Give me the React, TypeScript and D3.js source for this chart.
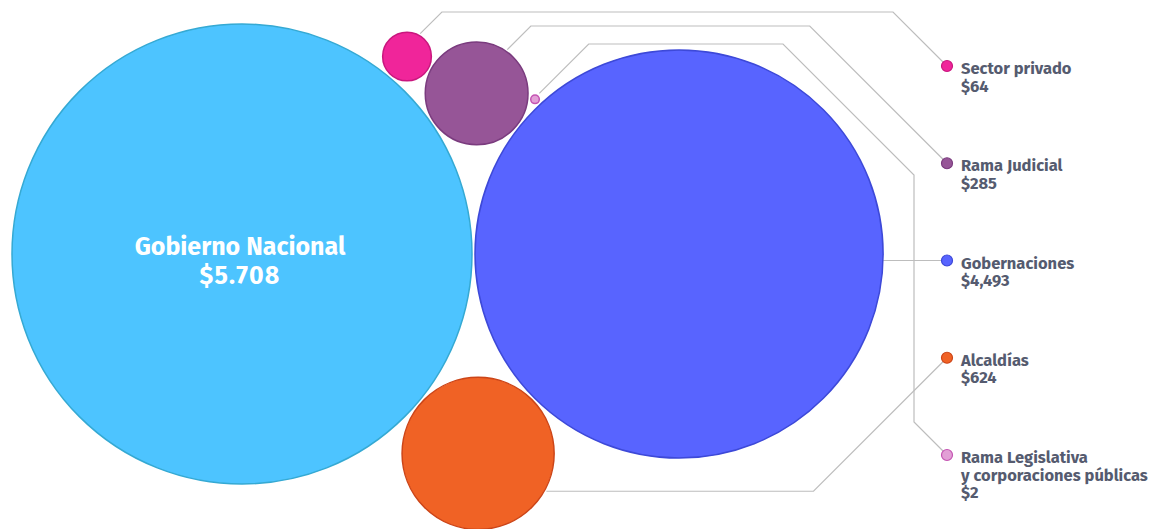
import React from "react";
import * as d3 from "d3";

const names = ["Gobierno Nacional", "Gobernaciones", "Alcaldías", "Rama Judicial", "Sector privado", "Rama Legislativa"];
const values = [5708, 4493, 624, 285, 64, 2];
const valueLabels = ["$5.708", "$4,493", "$624", "$285", "$64", "$2"];
const fills = ["#4DC4FF", "#5864FF", "#F06225", "#965597", "#F0259A", "#E29FD6"];
const strokes = ["#35A9D3", "#3D49D8", "#CC4518", "#7A3B7E", "#C9177E", "#C453B2"];
const legendOrder = ["Sector privado", "Rama Judicial", "Gobernaciones", "Alcaldías", "Rama Legislativa"];
const legendLines: string[][] = [["Sector privado"], ["Rama Judicial"], ["Gobernaciones"], ["Alcaldías"], ["Rama Legislativa", "y corporaciones públicas"]];

const W = 1154, H = 529;
const PAD = 3;
const FONT = "'Fira Sans', Lato, 'Open Sans', sans-serif";
const TEXT = "#555B6F";
const LINE = "#BDBDBD";

type C = { x: number; y: number; r: number };

function tangent(a: C, b: C, r: number, side: number): C {
  const da = a.r + r + PAD, db = b.r + r + PAD;
  const dx = b.x - a.x, dy = b.y - a.y;
  const d = Math.hypot(dx, dy);
  const along = (da * da - db * db + d * d) / (2 * d);
  const h = Math.sqrt(Math.max(0, da * da - along * along));
  const ux = dx / d, uy = dy / d;
  return { x: a.x + ux * along + side * -uy * h, y: a.y + uy * along + side * ux * h, r };
}

export default function App() {
  const rScale = d3.scaleSqrt().domain([0, d3.max(values) as number]).range([0, 230]);
  const rs = values.map((v) => rScale(v));
  const gn: C = { x: 12 + rs[0], y: 254, r: rs[0] };
  const gob: C = { x: gn.x + rs[0] + rs[1] + PAD, y: 254, r: rs[1] };
  const alc = tangent(gn, gob, rs[2], 1);
  const rj = tangent(gn, gob, rs[3], -1);
  const sp = tangent(gn, rj, rs[4], -1);
  const rl = tangent(rj, gob, rs[5], -1);
  const circles: C[] = [gn, gob, alc, rj, sp, rl];

  const ly = d3.scalePoint<string>().domain(legendOrder).range([66, 455]);
  const dotX = 947;
  const idx = (n: string) => names.indexOf(n);

  const at = (c: C, deg: number, gap = 2) => {
    const a = (deg * Math.PI) / 180;
    return [c.x + (c.r + gap) * Math.cos(a), c.y + (c.r + gap) * Math.sin(a)] as [number, number];
  };
  const line = d3.line();

  const topRoute = (c: C, deg: number, level: number, dy: number) => {
    const s = at(c, deg);
    const k1: [number, number] = [s[0] + (s[1] - level), level];
    const k2: [number, number] = [dotX - (dy - level), level];
    return [s, k1, k2, [dotX, dy] as [number, number]];
  };
  const spY = ly("Sector privado")!, rjY = ly("Rama Judicial")!, gobY = ly("Gobernaciones")!, alcY = ly("Alcaldías")!, rlY = ly("Rama Legislativa")!;
  const vx = 914;
  const rlStart = at(rl, -54, 3);
  const rlLevel = 44;
  const rlRoute: [number, number][] = [
    rlStart,
    [rlStart[0] + (rlStart[1] - rlLevel), rlLevel],
    [vx - (175 - rlLevel), rlLevel],
    [vx, 175],
    [vx, rlY - (dotX - vx)],
    [dotX, rlY],
  ];
  const alcStart = at(alc, 29);
  const alcRoute: [number, number][] = [alcStart, [dotX - (alcStart[1] - alcY), alcStart[1]], [dotX, alcY]];
  const gobRoute: [number, number][] = [[gob.x + gob.r, gobY], [dotX, gobY]];
  const routes = [
    topRoute(sp, -60, 12, spY),
    topRoute(rj, -55, 26, rjY),
    rlRoute,
    gobRoute,
    alcRoute,
  ];

  return (
    <div style={{ position: "absolute", left: 0, top: 0 }}>
      <svg width={W} height={H} style={{ display: "block" }}>
        <rect width={W} height={H} fill="#fff" />
        {routes.map((r, i) => (
          <path key={i} d={line(r) as string} fill="none" stroke={LINE} strokeWidth={1.2} />
        ))}
        {circles.map((c, i) => (
          <circle key={i} cx={c.x} cy={c.y} r={c.r} fill={fills[i]} stroke={strokes[i]} strokeWidth={1.5} />
        ))}
        <text x={gn.x - 2} y={255} textAnchor="middle" fill="#fff" fontFamily={FONT} fontWeight={700} fontSize={25}>
          {names[0]}
        </text>
        <text x={gn.x - 2} y={284} textAnchor="middle" fill="#fff" fontFamily={FONT} fontWeight={700} fontSize={25} letterSpacing={1.2}>
          {valueLabels[0]}
        </text>
        {legendOrder.map((n, j) => {
          const i = idx(n);
          const y = ly(n)!;
          const lines = [...legendLines[j], valueLabels[i]];
          return (
            <g key={n}>
              <circle cx={dotX} cy={y} r={5.5} fill={fills[i]} stroke={strokes[i]} strokeWidth={1.2} />
              <text x={961} y={y + 8} fill={TEXT} fontFamily={FONT} fontWeight={700} fontSize={16.5}>
                {lines.map((t, k) => (
                  <tspan key={k} x={961} dy={k === 0 ? 0 : 17.5}>
                    {t}
                  </tspan>
                ))}
              </text>
            </g>
          );
        })}
      </svg>
    </div>
  );
}
